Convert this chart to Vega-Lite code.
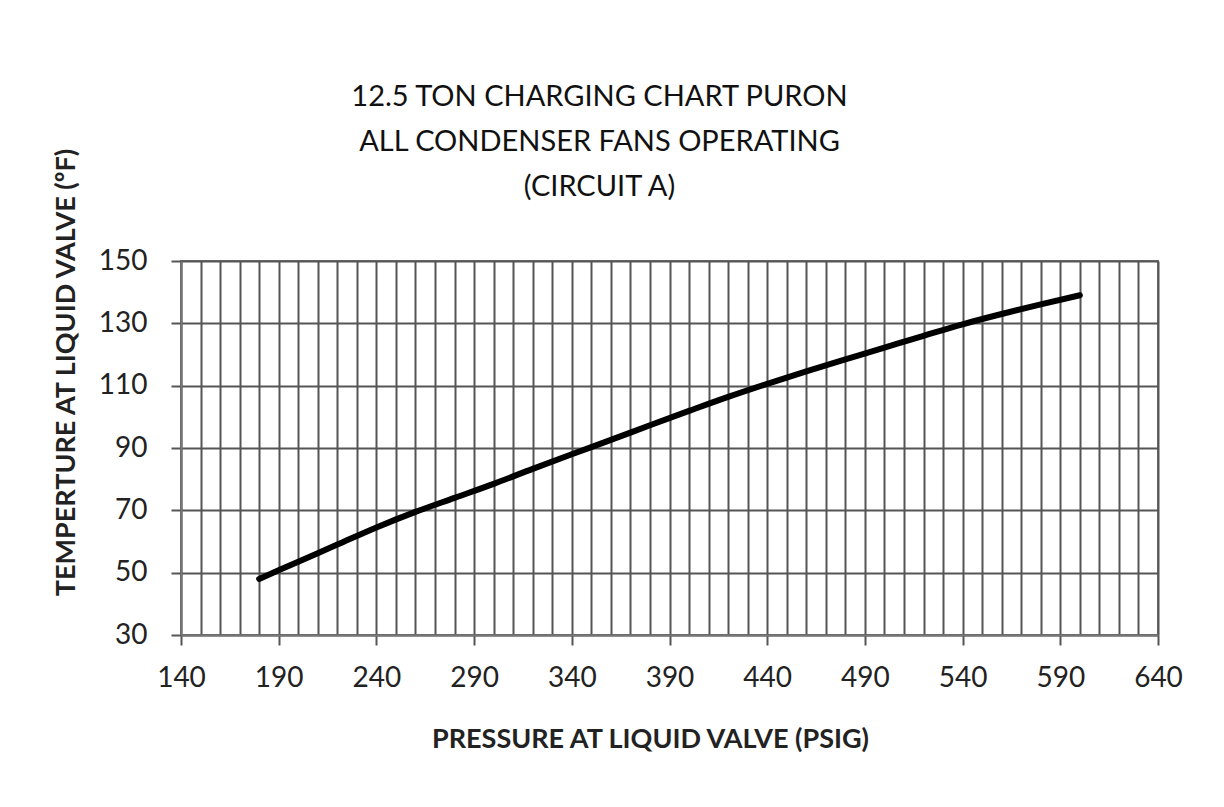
{
  "$schema": "https://vega.github.io/schema/vega-lite/v6.json",
  "width": 977,
  "height": 374,
  "autosize": {"type": "none"},
  "padding": {"left": 181, "top": 261, "right": 66, "bottom": 172},
  "background": "white",
  "title": {
    "text": ["12.5 TON CHARGING CHART PURON", "ALL CONDENSER FANS OPERATING", "(CIRCUIT A)"],
    "font": "Lato",
    "fontSize": 29,
    "fontWeight": "normal",
    "color": "#111111",
    "lineHeight": 45,
    "anchor": "middle",
    "dx": -70,
    "offset": -55
  },
  "data": {
    "values": [
      {"pressure": 180, "temp": 48},
      {"pressure": 200, "temp": 53.5},
      {"pressure": 220, "temp": 59},
      {"pressure": 240, "temp": 64.5},
      {"pressure": 260, "temp": 69.5},
      {"pressure": 280, "temp": 74},
      {"pressure": 300, "temp": 78.5},
      {"pressure": 320, "temp": 83.3},
      {"pressure": 340, "temp": 88},
      {"pressure": 360, "temp": 92.6},
      {"pressure": 380, "temp": 97.3},
      {"pressure": 400, "temp": 101.9},
      {"pressure": 420, "temp": 106.4},
      {"pressure": 440, "temp": 110.6},
      {"pressure": 460, "temp": 114.6},
      {"pressure": 480, "temp": 118.4},
      {"pressure": 500, "temp": 122.2},
      {"pressure": 520, "temp": 126},
      {"pressure": 540, "temp": 129.7},
      {"pressure": 560, "temp": 133},
      {"pressure": 580, "temp": 136.1},
      {"pressure": 600, "temp": 139}
    ]
  },
  "mark": {"type": "line", "color": "black", "strokeWidth": 6, "strokeCap": "round", "interpolate": "monotone", "clip": true},
  "encoding": {
    "x": {
      "field": "pressure",
      "type": "quantitative",
      "scale": {"domain": [140, 640], "nice": false, "zero": false},
      "axis": {
        "title": "PRESSURE AT LIQUID VALVE (PSIG)",
        "values": [140,150,160,170,180,190,200,210,220,230,240,250,260,270,280,290,300,310,320,330,340,350,360,370,380,390,400,410,420,430,440,450,460,470,480,490,500,510,520,530,540,550,560,570,580,590,600,610,620,630,640],
        "labelExpr": "(datum.value - 140) % 50 === 0 ? datum.label : ''",
        "tickOpacity": {"condition": {"test": "(datum.value - 140) % 50 === 0", "value": 1}, "value": 0},
        "labelOverlap": false,
        "labelFlush": false,
        "labelPadding": 19,
        "titlePadding": 34,
        "titleX": 469
      }
    },
    "y": {
      "field": "temp",
      "type": "quantitative",
      "scale": {"domain": [30, 150], "nice": false, "zero": false},
      "axis": {
        "title": "TEMPERTURE AT LIQUID VALVE (ºF)",
        "values": [30, 50, 70, 90, 110, 130, 150],
        "labelFlush": false,
        "labelPadding": 24,
        "titlePadding": 18,
        "titleY": 111
      }
    }
  },
  "config": {
    "view": {"stroke": "#777777", "strokeWidth": 2},
    "axis": {
      "domainColor": "#777777",
      "domainWidth": 2,
      "grid": true,
      "gridColor": "#555555",
      "gridWidth": 2,
      "gridOpacity": 1,
      "tickColor": "#555555",
      "tickWidth": 2,
      "tickSize": 10,
      "labelFont": "Lato",
      "labelFontSize": 28,
      "labelColor": "#222222",
      "titleFont": "Lato",
      "titleFontWeight": "bold",
      "titleFontSize": 27,
      "titleColor": "#222222"
    }
  }
}
